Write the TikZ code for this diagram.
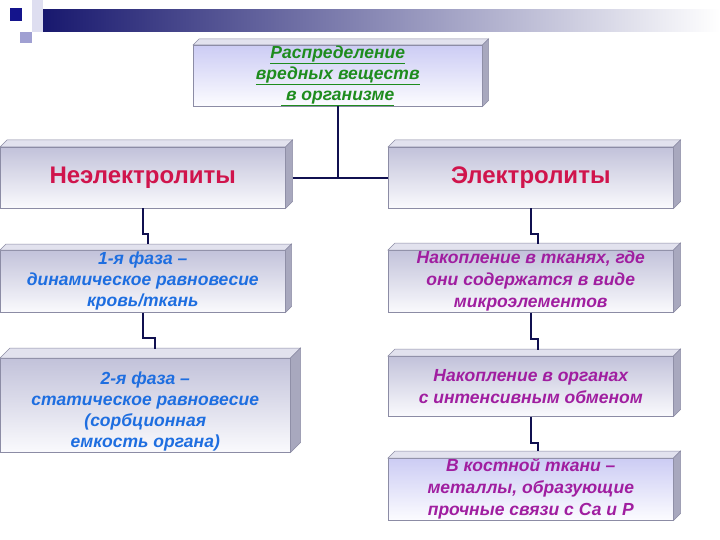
\documentclass[tikz,border=0pt]{standalone}
\usepackage{fontspec}
\setmainfont{Liberation Sans}
\usetikzlibrary{calc}
\definecolor{navyline}{RGB}{16,16,80}
\definecolor{edgec}{RGB}{140,140,165}
\definecolor{topfc}{RGB}{226,226,238}
\definecolor{sidefc}{RGB}{168,168,190}
\definecolor{frAtop}{RGB}{194,194,218}
\definecolor{frAbot}{RGB}{250,250,253}
\definecolor{frBtop}{RGB}{204,204,244}
\definecolor{frBbot}{RGB}{252,252,255}
\definecolor{redt}{RGB}{208,20,76}
\definecolor{bluet}{RGB}{30,110,224}
\definecolor{purpt}{RGB}{160,30,160}
\definecolor{greent}{RGB}{30,140,30}
\definecolor{barnavy}{RGB}{24,24,110}
\definecolor{barmid}{RGB}{160,160,192}
\definecolor{sqdark}{RGB}{20,20,140}
\definecolor{sqlight}{RGB}{222,222,240}
\definecolor{sqmid}{RGB}{160,160,210}
\newcommand\drawdepth[2]{%
  \fill[topfc,draw=edgec,line width=0.5pt] (#1.north west) -- ++(#2,-#2) -- ($(#1.north east)+(#2,-#2)$) -- (#1.north east) -- cycle;
  \fill[sidefc,draw=edgec,line width=0.5pt] (#1.north east) -- ++(#2,-#2) -- ($(#1.south east)+(#2,-#2)$) -- (#1.south east) -- cycle;}
\tikzset{
  frontA/.style={draw=edgec,line width=0.5pt,top color=frAtop,bottom color=frAbot,inner sep=0pt,anchor=north west,align=center},
  frontB/.style={draw=edgec,line width=0.5pt,top color=frBtop,bottom color=frBbot,inner sep=0pt,anchor=north west,align=center},
  conn/.style={draw=navyline,line width=2pt},
  bigtxt/.style={font=\fontsize{24}{28}\selectfont\bfseries,text=redt},
  bluetxt/.style={font=\fontsize{17.5}{21}\selectfont\bfseries\itshape,text=bluet},
  purptxt/.style={font=\fontsize{17.5}{22}\selectfont\bfseries\itshape,text=purpt},
  greentxt/.style={font=\fontsize{17.5}{21}\selectfont\bfseries\itshape,text=greent}
}
\begin{document}
\begin{tikzpicture}[x=1pt,y=-1pt]
\useasboundingbox[fill=white] (0,0) rectangle (720,540);
% template decoration
\fill[sqlight] (32,0) rectangle (43,32);
\shade[left color=barnavy,middle color=barmid,right color=white] (43,10) rectangle (720,32);
\fill[sqdark] (10,8) rectangle (22,21);
\fill[sqmid] (20,32) rectangle (32,43);
% boxes
\node[frontB,minimum width=289pt,minimum height=61pt,greentxt] (top) at (193,45)
  {\underline{Распределение}\\\underline{вредных веществ}\\\underline{\ в организме}};
\drawdepth{top}{6}
\node[frontA,minimum width=285pt,minimum height=61pt,bigtxt] (nonel) at (0,147) {Неэлектролиты};
\drawdepth{nonel}{7}
\node[frontA,minimum width=285pt,minimum height=61pt,bigtxt] (el) at (388,147) {Электролиты};
\drawdepth{el}{7}
\node[frontA,minimum width=285pt,minimum height=62pt,bluetxt] (ph1) at (0,250)
  {1-я фаза –\\динамическое равновесие\\кровь/ткань};
\drawdepth{ph1}{6}
\node[frontA,minimum width=285pt,minimum height=62pt,purptxt] (acc1) at (388,250)
  {Накопление в тканях, где\\они содержатся в виде\\микроэлементов};
\drawdepth{acc1}{7}
\node[frontA,minimum width=290pt,minimum height=94pt,bluetxt] (ph2) at (0,358)
  {\\[5pt]2-я фаза –\\статическое равновесие\\(сорбционная\\емкость органа)};
\drawdepth{ph2}{10}
\node[frontA,minimum width=285pt,minimum height=60pt,purptxt] (acc2) at (388,356)
  {Накопление в органах\\с интенсивным обменом};
\drawdepth{acc2}{7}
\node[frontB,minimum width=285pt,minimum height=62pt,purptxt] (bone) at (388,458)
  {В костной ткани –\\металлы, образующие\\прочные связи с Са и Р};
\drawdepth{bone}{7}
% connectors
\draw[conn] (top.south) -- (top.south |- el.west);
\draw[conn] ($(nonel.east)+(7,0)$) -- (el.west);
\draw[conn] (nonel.south) -- ++(0,25) -| ($(ph1.north)+(5,-6)$);
\draw[conn] (ph1.south) -- ++(0,25) -| ($(ph2.north)+(10,-9)$);
\draw[conn] (el.south) -- ++(0,25) -| ($(acc1.north)+(7,-6)$);
\draw[conn] (acc1.south) -- ++(0,26) -| ($(acc2.north)+(7,-6)$);
\draw[conn] (acc2.south) -- ++(0,26) -| ($(bone.north)+(7,-7)$);
\end{tikzpicture}
\end{document}
